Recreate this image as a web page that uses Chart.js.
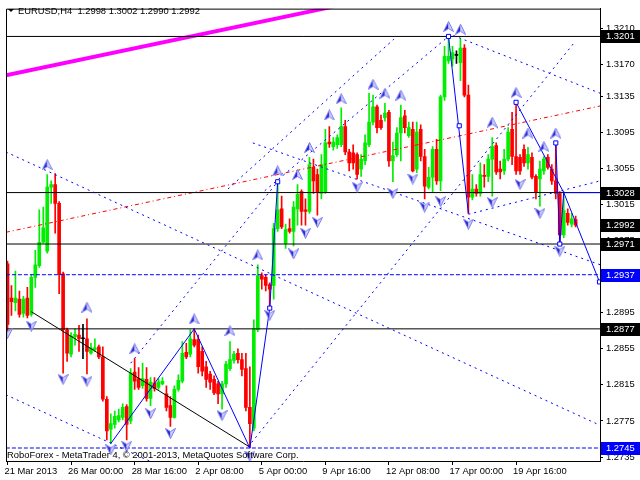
<!DOCTYPE html>
<html>
<head>
<meta charset="utf-8">
<script src="https://cdn.jsdelivr.net/npm/chart.js@4.4.0/dist/chart.umd.min.js"></script>
<style>
  html, body { margin: 0; padding: 0; background: #fff; }
</style>
</head>
<body>
<canvas id="chart_out" width="640" height="480"></canvas>
<script>
// EURUSD H4 candles (bar 0 = 21 Mar 2013)
var opens = [1.2949, 1.2911, 1.2906, 1.2910, 1.2894, 1.2911, 1.2893, 1.2934, 1.2947, 1.2973,
  1.2963, 1.3034, 1.3037, 1.3016, 1.2938, 1.2876, 1.2849, 1.2868, 1.2870, 1.2866,
  1.2866, 1.2850, 1.2854, 1.2857, 1.2846, 1.2799, 1.2766, 1.2771, 1.2776, 1.2779,
  1.2791, 1.2775, 1.2829, 1.2822, 1.2814, 1.2821, 1.2800, 1.2817, 1.2812, 1.2816,
  1.2805, 1.2792, 1.2779, 1.2810, 1.2819, 1.2851, 1.2849, 1.2865, 1.2865, 1.2852,
  1.2835, 1.2827, 1.2821, 1.2816, 1.2805, 1.2816, 1.2833, 1.2842, 1.2850, 1.2843,
  1.2833, 1.2790, 1.2767, 1.2876, 1.2936, 1.2934, 1.2926, 1.2925, 1.2988, 1.3010,
  1.2972, 1.2988, 1.2985, 1.3010, 1.3029, 1.3009, 1.3007, 1.3056, 1.3048, 1.3027,
  1.3029, 1.3084, 1.3079, 1.3081, 1.3081, 1.3101, 1.3073, 1.3072, 1.3070, 1.3054,
  1.3063, 1.3081, 1.3106, 1.3123, 1.3108, 1.3111, 1.3117, 1.3063, 1.3070, 1.3094,
  1.3113, 1.3091, 1.3098, 1.3054, 1.3098, 1.3068, 1.3034, 1.3045, 1.3076, 1.3041,
  1.3134, 1.3174, 1.3176, 1.3180, 1.3172, 1.3188, 1.3136, 1.3023, 1.3032, 1.3027,
  1.3047, 1.3046, 1.3065, 1.3080, 1.3054, 1.3052, 1.3065, 1.3098, 1.3068, 1.3067,
  1.3076, 1.3061, 1.3067, 1.3046, 1.3043, 1.3052, 1.3067, 1.3054, 1.3041, 1.3027,
  1.2981, 1.3005, 1.2993, 1.2998];
var highs = [1.2952, 1.2925, 1.2941, 1.2919, 1.2913, 1.2923, 1.2937, 1.2964, 1.3009, 1.3012,
  1.3048, 1.3041, 1.3049, 1.3018, 1.2940, 1.2878, 1.2873, 1.2877, 1.2881, 1.2882,
  1.2888, 1.2861, 1.2866, 1.2859, 1.2857, 1.2802, 1.2783, 1.2786, 1.2788, 1.2794,
  1.2793, 1.2833, 1.2844, 1.2834, 1.2839, 1.2834, 1.2823, 1.2823, 1.2822, 1.2823,
  1.2814, 1.2802, 1.2814, 1.2826, 1.2863, 1.2861, 1.2876, 1.2877, 1.2870, 1.2857,
  1.2841, 1.2830, 1.2825, 1.2819, 1.2819, 1.2841, 1.2863, 1.2852, 1.2855, 1.2850,
  1.2850, 1.2835, 1.2887, 1.2948, 1.2939, 1.2937, 1.2928, 1.2994, 1.3040, 1.3024,
  1.2993, 1.2999, 1.3018, 1.3037, 1.3031, 1.3021, 1.3067, 1.3065, 1.3054, 1.3070,
  1.3098, 1.3101, 1.3089, 1.3092, 1.3122, 1.3108, 1.3076, 1.3081, 1.3072, 1.3070,
  1.3092, 1.3138, 1.3136, 1.3125, 1.3114, 1.3127, 1.3119, 1.3084, 1.3100, 1.3125,
  1.3119, 1.3106, 1.3106, 1.3106, 1.3103, 1.3076, 1.3056, 1.3079, 1.3087, 1.3136,
  1.3190, 1.3201, 1.3190, 1.3185, 1.3198, 1.3192, 1.3147, 1.3048, 1.3037, 1.3061,
  1.3059, 1.3070, 1.3089, 1.3083, 1.3063, 1.3076, 1.3100, 1.3117, 1.3128, 1.3070,
  1.3081, 1.3078, 1.3072, 1.3048, 1.3063, 1.3068, 1.3070, 1.3059, 1.3083, 1.3029,
  1.3029, 1.3010, 1.3005, 1.3002];
var lows = [1.2874, 1.2892, 1.2897, 1.2890, 1.2890, 1.2889, 1.2891, 1.2923, 1.2945, 1.2972,
  1.2961, 1.3016, 1.2983, 1.2916, 1.2828, 1.2841, 1.2846, 1.2859, 1.2852, 1.2844,
  1.2827, 1.2849, 1.2852, 1.2844, 1.2797, 1.2754, 1.2750, 1.2767, 1.2774, 1.2776,
  1.2754, 1.2772, 1.2810, 1.2810, 1.2811, 1.2797, 1.2792, 1.2808, 1.2810, 1.2815,
  1.2786, 1.2769, 1.2778, 1.2808, 1.2817, 1.2844, 1.2846, 1.2857, 1.2828, 1.2825,
  1.2812, 1.2810, 1.2804, 1.2794, 1.2788, 1.2812, 1.2831, 1.2839, 1.2839, 1.2825,
  1.2786, 1.2745, 1.2764, 1.2874, 1.2921, 1.2919, 1.2900, 1.2910, 1.2985, 1.2988,
  1.2966, 1.2983, 1.2969, 1.2992, 1.2992, 1.2992, 1.3005, 1.3027, 1.3003, 1.3021,
  1.3027, 1.3078, 1.3075, 1.3077, 1.3079, 1.3070, 1.3052, 1.3054, 1.3043, 1.3046,
  1.3059, 1.3079, 1.3103, 1.3094, 1.3098, 1.3107, 1.3057, 1.3040, 1.3068, 1.3063,
  1.3094, 1.3089, 1.3051, 1.3050, 1.3063, 1.3021, 1.3032, 1.3029, 1.3037, 1.3030,
  1.3130, 1.3171, 1.3168, 1.3171, 1.3152, 1.3134, 1.3005, 1.3020, 1.3024, 1.3024,
  1.3034, 1.3040, 1.3024, 1.3048, 1.3043, 1.3048, 1.3063, 1.3059, 1.3048, 1.3048,
  1.3057, 1.3054, 1.3043, 1.3021, 1.3013, 1.3048, 1.3054, 1.3037, 1.3021, 1.2971,
  1.2978, 1.2992, 1.2990, 1.2990];
var closes = [1.2882, 1.2907, 1.2911, 1.2893, 1.2910, 1.2892, 1.2934, 1.2948, 1.2973, 1.2989,
  1.3034, 1.3037, 1.3016, 1.2937, 1.2876, 1.2850, 1.2869, 1.2871, 1.2866, 1.2866,
  1.2852, 1.2856, 1.2856, 1.2846, 1.2799, 1.2764, 1.2772, 1.2780, 1.2781, 1.2790,
  1.2771, 1.2828, 1.2819, 1.2812, 1.2822, 1.2800, 1.2818, 1.2811, 1.2818, 1.2819,
  1.2790, 1.2779, 1.2810, 1.2820, 1.2850, 1.2846, 1.2866, 1.2859, 1.2835, 1.2830,
  1.2821, 1.2818, 1.2806, 1.2805, 1.2816, 1.2838, 1.2843, 1.2849, 1.2843, 1.2832,
  1.2790, 1.2772, 1.2877, 1.2936, 1.2932, 1.2925, 1.2921, 1.2988, 1.3009, 1.2990,
  1.2987, 1.2985, 1.3012, 1.3026, 1.3007, 1.3007, 1.3059, 1.3041, 1.3029, 1.3059,
  1.3083, 1.3082, 1.3084, 1.3089, 1.3101, 1.3073, 1.3061, 1.3061, 1.3048, 1.3065,
  1.3083, 1.3106, 1.3123, 1.3100, 1.3100, 1.3116, 1.3063, 1.3069, 1.3094, 1.3111,
  1.3100, 1.3100, 1.3052, 1.3095, 1.3068, 1.3035, 1.3045, 1.3076, 1.3041, 1.3134,
  1.3179, 1.3179, 1.3183, 1.3180, 1.3188, 1.3136, 1.3023, 1.3032, 1.3027, 1.3048,
  1.3046, 1.3065, 1.3079, 1.3051, 1.3051, 1.3065, 1.3095, 1.3068, 1.3052, 1.3052,
  1.3061, 1.3070, 1.3045, 1.3029, 1.3054, 1.3065, 1.3056, 1.3041, 1.3027, 1.2981,
  1.3008, 1.2995, 1.2999, 1.2992];

var symbol = 'EURUSD,H4';
var timeTicks = [0, 16, 32, 48, 64, 80, 96, 112, 128];
var timeLabels = ['21 Mar 2013', '26 Mar 00:00', '28 Mar 16:00', '2 Apr 08:00', '5 Apr 00:00',
  '9 Apr 16:00', '12 Apr 08:00', '17 Apr 00:00', '19 Apr 16:00'];
var priceTicks = [1.3210, 1.3170, 1.3135, 1.3095, 1.3055, 1.3015, 1.2975, 1.2935,
  1.2895, 1.2855, 1.2815, 1.2775, 1.2735];

var levelsSolid = [1.3201, 1.3028, 1.2971, 1.2877];
var levelsDashed = [1.2937, 1.2745];

// trend lines as [bar, price, bar, price]
var dottedLines = [
  [-0.4, 1.3073, 149.2, 1.2770],
  [-0.4, 1.2804, 36.5, 1.2729],
  [31, 1.2839, 68, 1.3040],
  [55.5, 1.3032, 97.25, 1.3198],
  [64.75, 1.3030, 111, 1.3201],
  [112.25, 1.3202, 149.2, 1.3138],
  [61.75, 1.3083, 149.2, 1.2948],
  [116, 1.3004, 149.2, 1.3041],
  [60.5, 1.2746, 143, 1.3196]
];
var blackLine = [6, 1.2896, 61, 1.2746];
var redLine = [-0.4, 1.2984, 149.2, 1.3124];
var pinkLine = [-0.4, 1.3158, 82, 1.3234];

// zigzag legs, [bar, price] points
var zigzags = [
  [[26, 1.2750], [47, 1.2877], [61, 1.2745], [66, 1.2900], [68, 1.3040]],
  [[111, 1.3201], [116, 1.3005]],
  [[128, 1.3128], [140, 1.3028], [149, 1.2929]],
  [[138, 1.3083], [139, 1.2971], [140, 1.3028], [149.2, 1.3028]]
];
var boxBars = [66, 68, 111, 113.7, 128, 138, 139, 149];
var boxPrices = [1.2900, 1.3040, 1.3201, 1.3102, 1.3128, 1.3083, 1.2971, 1.2929];

// fractal arrows
var upBars = [10, 20, 32, 47, 56, 63, 68, 73, 76, 81, 84, 92, 95, 99, 111, 114, 122, 128, 131, 135, 138];
var upPrices = [1.3059, 1.2901, 1.2855, 1.2888, 1.2875, 1.2959, 1.3052, 1.3048, 1.3078, 1.3114, 1.3132,
  1.3148, 1.3138, 1.3136, 1.3212, 1.3209, 1.3106, 1.3139, 1.3094, 1.3079, 1.3094];
var downBars = [0, 6, 14, 20, 26, 30, 36, 41, 54, 61, 66, 72, 75, 78, 88, 97, 102, 105, 109, 116, 122, 129, 134, 139];
var downPrices = [1.2872, 1.2880, 1.2821, 1.2819, 1.2743, 1.2747, 1.2783, 1.2761, 1.2781, 1.2736, 1.2892,
  1.2960, 1.2983, 1.2995, 1.3034, 1.3027, 1.3043, 1.3012, 1.3018, 1.2993, 1.3017, 1.3037, 1.3005, 1.2963];

var FONT = "'Liberation Sans', Arial, sans-serif";
var FSIZE = 9.4;
var last = closes.length - 1;

function pair(l) {
  return [{ x: l[0], y: l[1] }, { x: l[2], y: l[3] }];
}
function xy(bars, prices) {
  return bars.map(function (b, i) { return { x: b, y: prices[i] }; });
}

// mt4 style arrow glyph
function arrowImage(up) {
  var c = document.createElement('canvas');
  c.width = 11; c.height = 11;
  var g = c.getContext('2d');
  if (!up) { g.translate(0, 11); g.scale(1, -1); }
  g.beginPath(); g.moveTo(5.5, 0.5); g.lineTo(5.5, 7.5); g.lineTo(0.5, 10.5); g.closePath();
  g.fillStyle = '#2424d4'; g.fill();
  g.beginPath(); g.moveTo(5.5, 0.5); g.lineTo(10.5, 10.5); g.lineTo(5.5, 7.5); g.closePath();
  g.fillStyle = '#d0d0ff'; g.fill();
  g.beginPath(); g.moveTo(5.5, 0.5); g.lineTo(10.5, 10.5); g.lineTo(5.5, 7.5); g.lineTo(0.5, 10.5); g.closePath();
  g.strokeStyle = '#7a7aee'; g.lineWidth = 1; g.stroke();
  return c;
}

var candleColor = closes.map(function (c, i) {
  if (c > opens[i]) return '#00ee00';
  if (c < opens[i]) return '#ff0000';
  return '#000000';
});
var wicks = highs.map(function (h, i) { return { x: i, y: [lows[i], h] }; });
var bodies = opens.map(function (o, i) {
  return { x: i, y: [Math.min(o, closes[i]), Math.max(o, closes[i])] };
});

function lineSet(points, color, width, dash, order) {
  return {
    type: 'line', data: points, borderColor: color, borderWidth: width, borderDash: dash || [],
    pointRadius: 0, tension: 0, fill: false, order: order
  };
}

var datasets = [];
datasets.push({ type: 'bar', data: wicks, backgroundColor: candleColor, barThickness: 1, grouped: false, minBarLength: 1, order: 30 });
datasets.push({ type: 'bar', data: bodies, backgroundColor: candleColor, barThickness: 3, grouped: false, minBarLength: 1, order: 29 });

datasets.push(lineSet(pair(pinkLine), '#ff00ff', 4, [], 9));
datasets.push(lineSet(pair(redLine), '#ff0000', 1, [4, 3, 1, 3], 8));
levelsSolid.forEach(function (v) {
  datasets.push(lineSet([{ x: -0.4, y: v }, { x: 149.2, y: v }], '#000000', 1, [], 7));
});
levelsDashed.forEach(function (v) {
  datasets.push(lineSet([{ x: -0.4, y: v }, { x: 149.2, y: v }], '#0000ff', 1, [4, 2], 7));
});
dottedLines.forEach(function (l) {
  datasets.push(lineSet(pair(l), '#0000ff', 1, [2, 4], 6));
});
datasets.push(lineSet(pair(blackLine), '#000000', 1, [], 6));
zigzags.forEach(function (z) {
  datasets.push(lineSet(z.map(function (p) { return { x: p[0], y: p[1] }; }), '#0000ff', 1, [], 5));
});
datasets.push({
  type: 'line', data: xy(boxBars, boxPrices), showLine: false, pointStyle: 'rect', pointRadius: 2.9,
  pointBorderColor: '#0000ff', pointBackgroundColor: '#ffffff', pointBorderWidth: 1, order: 2
});
datasets.push({ type: 'line', data: xy(upBars, upPrices), showLine: false, pointStyle: arrowImage(true), pointRadius: 5, order: 1 });
datasets.push({ type: 'line', data: xy(downBars, downPrices), showLine: false, pointStyle: arrowImage(false), pointRadius: 5, order: 1 });

var mtDecor = {
  id: 'mtDecor',
  beforeDraw: function (chart) {
    var ctx = chart.ctx;
    ctx.save();
    ctx.fillStyle = '#ffffff';
    ctx.fillRect(0, 0, chart.width, chart.height);
    ctx.restore();
  },
  afterDraw: function (chart) {
    var ctx = chart.ctx, a = chart.chartArea, ys = chart.scales.y;
    ctx.save();
    ctx.strokeStyle = '#000'; ctx.lineWidth = 1;
    ctx.beginPath();
    ctx.moveTo(a.left + 0.5, a.bottom); ctx.lineTo(a.left + 0.5, a.top + 0.5); ctx.lineTo(a.right, a.top + 0.5);
    ctx.stroke();

    // header
    ctx.fillStyle = '#000';
    ctx.beginPath(); ctx.moveTo(8, 9); ctx.lineTo(14, 9); ctx.lineTo(11, 12); ctx.closePath(); ctx.fill();
    ctx.font = FSIZE + 'px ' + FONT; ctx.textBaseline = 'middle'; ctx.textAlign = 'left';
    var t = symbol + '  ' + [opens[last], highs[last], lows[last], closes[last]].map(function (v) { return v.toFixed(4); }).join(' ');
    ctx.fillText(t, 18, 11);
    ctx.fillText('RoboForex - MetaTrader 4, \u00a9 2001-2013, MetaQuotes Software Corp.', 7, 455);

    // price tags on the axis
    var tags = [];
    levelsSolid.forEach(function (v) { tags.push([v, '#000000']); });
    tags.push([closes[last], '#000000']);
    levelsDashed.forEach(function (v) { tags.push([v, '#0000ff']); });
    tags.forEach(function (tg) {
      var py = Math.round(ys.getPixelForValue(tg[0]));
      ctx.fillStyle = tg[1];
      ctx.fillRect(a.right + 1, py - 6, 40, 13);
      ctx.fillStyle = '#fff';
      ctx.fillText(tg[0].toFixed(4), a.right + 6, py + 0.5);
    });
    ctx.restore();
  }
};

var ctx = document.getElementById('chart_out').getContext('2d');
var chart = new Chart(ctx, {
  type: 'bar',
  data: { datasets: datasets },
  options: {
    responsive: false,
    animation: false,
    events: [],
    layout: { padding: { left: 2, top: 2, right: 0, bottom: 0 } },
    plugins: { legend: { display: false }, tooltip: { enabled: false } },
    scales: {
      x: {
        type: 'linear', min: -0.375, max: 149.125, offset: false,
        afterBuildTicks: function (s) { s.ticks = timeTicks.map(function (v) { return { value: v }; }); },
        afterFit: function (s) { s.height = 19; },
        ticks: {
          callback: function (v, i) { return timeLabels[i]; },
          align: 'start', labelOffset: -3, maxRotation: 0, autoSkip: false, padding: 1, color: '#000',
          font: { family: FONT, size: FSIZE }
        },
        grid: { drawOnChartArea: false, offset: false, tickLength: 4, color: '#000' },
        border: { color: '#000' }
      },
      y: {
        type: 'linear', position: 'right', min: 1.27306, max: 1.32318,
        afterBuildTicks: function (s) { s.ticks = priceTicks.map(function (v) { return { value: v }; }); },
        afterFit: function (s) { s.width = 40; },
        ticks: {
          callback: function (v) { return v.toFixed(4); },
          autoSkip: false, padding: 3, color: '#000', font: { family: FONT, size: FSIZE }
        },
        grid: { drawOnChartArea: false, tickLength: 3, color: '#000' },
        border: { color: '#000' }
      }
    }
  },
  plugins: [mtDecor]
});
</script>
</body>
</html>
